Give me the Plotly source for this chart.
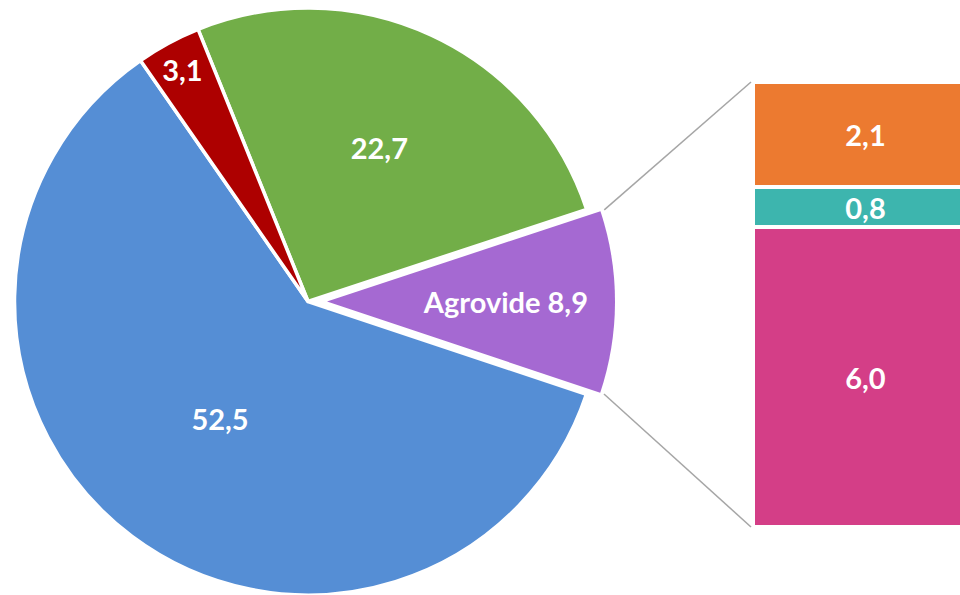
import math
import plotly.graph_objects as go

# ---------------- data ----------------
pie_labels = ["Grupo 1", "Agrovide", "Grupo 2", "Grupo 3"]
pie_values = [22.7, 8.9, 52.5, 3.1]
pie_colors = ["#72AE48", "#A569D2", "#558ED5", "#AD0000"]
exploded_label = "Agrovide"

bar_labels = ["Agrovide 3", "Agrovide 2", "Agrovide 1"]
bar_values = [6.0, 0.8, 2.1]
bar_colors = ["#D43E87", "#3DB5AE", "#EC7A30"]

# ---------------- layout constants ----------------
W, H = 960, 595
CX, CY, R = 308.0, 301.5, 293.5      # main pie centre / radius (px, from top-left)
EXPLODE_PX = 19.0                     # offset of the exploded slice
R_EXP = 288.0                         # radius of the exploded slice
ROTATION = -22                        # start of first slice, degrees clockwise from 12 o'clock
FONT = dict(family="Lato", size=29, color="white", weight="bold")
TRANSPARENT = "rgba(0,0,0,0)"

total = sum(pie_values)
k = pie_labels.index(exploded_label)
start_frac = sum(pie_values[:k]) / total
end_frac = sum(pie_values[:k + 1]) / total
a0 = math.radians(ROTATION + 360 * start_frac)   # plotly angle: 0 at top, clockwise
a1 = math.radians(ROTATION + 360 * end_frac)
amid = (a0 + a1) / 2

ecx = CX + EXPLODE_PX * math.sin(amid)
ecy = CY - EXPLODE_PX * math.cos(amid)


def dom_x(c, r):
    return [max(0, (c - r) / W), min(1, (c + r) / W)]


def dom_y(c, r):
    return [max(0, 1 - (c + r) / H), min(1, 1 - (c - r) / H)]


fig = go.Figure()

# main pie (exploded slice hidden)
fig.add_trace(go.Pie(
    labels=pie_labels, values=pie_values, sort=False, direction="clockwise",
    rotation=ROTATION,
    marker=dict(
        colors=[TRANSPARENT if i == k else c for i, c in enumerate(pie_colors)],
        line=dict(color=["white" if i != k else TRANSPARENT for i in range(len(pie_values))], width=3.5),
    ),
    texttemplate=["%{value:.1f}" if i != k else "" for i in range(len(pie_values))],
    textposition="inside", insidetextorientation="horizontal",
    textfont=FONT, showlegend=False, hoverinfo="label+value",
    domain=dict(x=dom_x(CX, R), y=dom_y(CY, R)),
))

# exploded slice
fig.add_trace(go.Pie(
    labels=pie_labels, values=pie_values, sort=False, direction="clockwise",
    rotation=ROTATION,
    marker=dict(
        colors=[c if i == k else TRANSPARENT for i, c in enumerate(pie_colors)],
        line=dict(color=TRANSPARENT, width=0),
    ),
    texttemplate=["%{label} %{value:.1f}" if i == k else "" for i in range(len(pie_values))],
    textposition="inside", insidetextorientation="horizontal",
    textfont=FONT, showlegend=False, hoverinfo="label+value",
    domain=dict(x=dom_x(ecx, R_EXP), y=dom_y(ecy, R_EXP)),
))

# stacked bar
for lab, val, col in zip(bar_labels, bar_values, bar_colors):
    fig.add_trace(go.Bar(
        x=[0.5], y=[val], width=[1.0], name=lab,
        marker=dict(color=col, line=dict(color="white", width=4)),
        texttemplate="%{y:.1f}", textposition="inside", insidetextanchor="middle",
        textfont=FONT, showlegend=False, xaxis="x", yaxis="y",
    ))

BAR_LEFT, BAR_TOP, BAR_BOTTOM = 753, 82, 527
bar_total = sum(bar_values)

# connector lines from exploded slice corners to the bar corners
GAP = 4
shapes = []
for ang, ybar in ((a0, BAR_TOP), (a1, BAR_BOTTOM)):
    px = ecx + (R_EXP + GAP) * math.sin(ang)
    py = ecy - (R_EXP + GAP) * math.cos(ang)
    shapes.append(dict(
        type="line", xref="paper", yref="paper",
        x0=px / W, y0=1 - py / H, x1=(BAR_LEFT - 2) / W, y1=1 - ybar / H,
        line=dict(color="#A6A6A6", width=1.5),
    ))

fig.update_layout(
    width=W, height=H,
    margin=dict(l=0, r=0, t=0, b=0),
    paper_bgcolor="white", plot_bgcolor="white",
    separators=",.",
    barmode="stack",
    uniformtext=dict(minsize=29, mode="show"),
    xaxis=dict(domain=[BAR_LEFT / W, 1], range=[0, 0.92], visible=False, fixedrange=True),
    yaxis=dict(domain=[1 - BAR_BOTTOM / H, 1 - BAR_TOP / H], range=[0, bar_total],
               visible=False, fixedrange=True),
    shapes=shapes,
    showlegend=False,
)

fig.write_html(
    "out.html",
    config={"displayModeBar": False},
    post_script="document.body.style.margin='0';document.body.style.overflow='hidden';",
)
